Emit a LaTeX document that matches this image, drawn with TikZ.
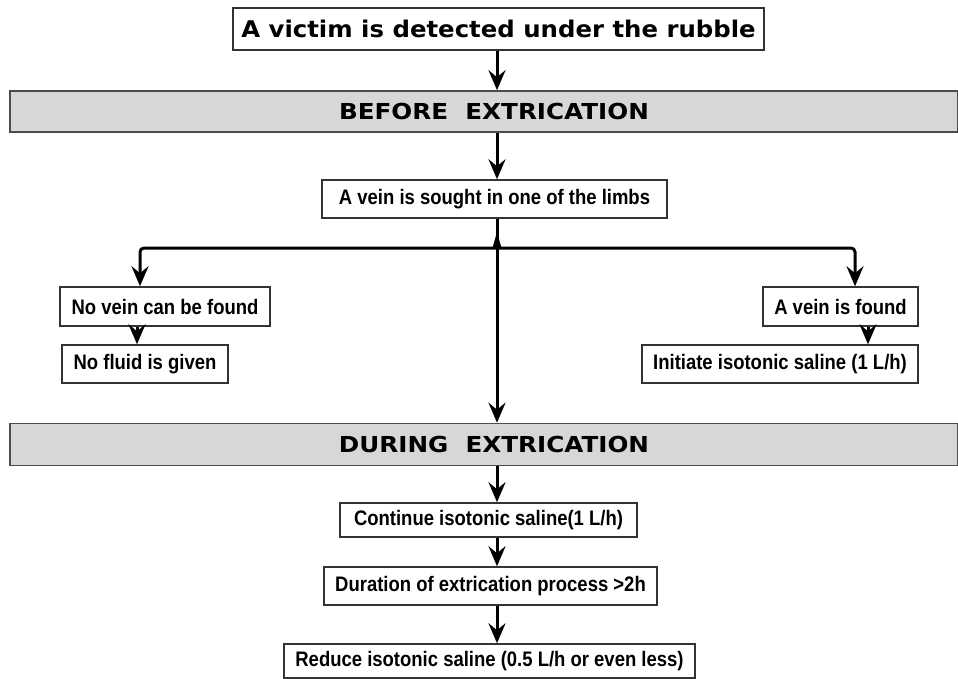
\documentclass[tikz,border=0pt]{standalone}
\usepackage{fontspec}
\setmainfont{Liberation Sans}
\newfontfamily\verdtop[FakeStretch=1.06]{DejaVu Sans}
\newfontfamily\verdband[FakeStretch=1.12]{DejaVu Sans}
\newfontfamily\narrowf[FakeStretch=0.88]{Liberation Sans}
\usetikzlibrary{arrows.meta,calc}
\definecolor{bandgray}{RGB}{215,215,215}
\tikzset{
  box/.style={draw=black!80, line width=1.5pt, fill=white, inner sep=0pt, align=center,
              font=\narrowf\bfseries\fontsize{21}{23}\selectfont},
  bigbox/.style={draw=black!80, line width=1.5pt, fill=white, inner sep=0pt,
              font=\verdtop\bfseries\fontsize{23}{25}\selectfont},
  band/.style={draw=black!70, line width=1.6pt, fill=bandgray, inner sep=0pt,
              font=\verdband\bfseries\fontsize{22}{24}\selectfont},
  arr/.style={line width=3pt, -{Stealth[length=20pt,width=17pt,inset=7pt]}},
  ln/.style={line width=3pt}
}
\begin{document}
\begin{tikzpicture}[x=1pt,y=-1pt]
\useasboundingbox (0,0) rectangle (958,678);
\node[bigbox, minimum width=531pt, minimum height=42pt] (top) at (498.5,29) {A victim is detected under the rubble};
\node[band, minimum width=948pt, minimum height=41pt] (before) at (484,111.5) {\hspace*{20pt}BEFORE\ \ EXTRICATION};
\node[box, minimum width=345pt, minimum height=38pt] (sought) at (494.5,199) {A vein is sought in one of the limbs};
\node[box, minimum width=210pt, minimum height=39pt] (nofound) at (165,306.5) {No vein can be found};
\node[box, minimum width=166pt, minimum height=38pt] (nofluid) at (145,364) {No fluid is given};
\node[box, minimum width=155pt, minimum height=39pt] (found) at (840.5,306.5) {A vein is found};
\node[box, minimum width=276pt, minimum height=38pt] (initiate) at (780,364) {Initiate isotonic saline (1 L/h)};
\node[band, minimum width=948pt, minimum height=42pt] (during) at (484,444.5) {\hspace*{20pt}DURING\ \ EXTRICATION};
\node[box, minimum width=297pt, minimum height=34pt] (cont) at (488.5,520) {Continue isotonic saline(1 L/h)};
\node[box, minimum width=333pt, minimum height=38pt] (dur) at (490.5,586) {Duration of extrication process >2h};
\node[box, minimum width=411pt, minimum height=34pt] (red) at (489.5,661) {Reduce isotonic saline (0.5 L/h or even less)};

\coordinate (mx) at (497,0);
\coordinate (j) at (497,248);
\coordinate (lx) at (140,0);
\coordinate (rx) at (855,0);
\coordinate (lx2) at (137,0);
\coordinate (rx2) at (868,0);

\draw[arr] (mx |- top.south) -- (mx |- before.north);
\draw[arr] (mx |- before.south) -- (mx |- sought.north);
\draw[arr] (mx |- sought.south) -- (mx |- during.north);
\draw[arr, rounded corners=4pt] (j) -| (lx |- nofound.north);
\draw[arr, rounded corners=4pt] (j) -| (rx |- found.north);
\fill (492.5,248) -- (497,232) -- (501.5,248) -- cycle;
\draw[arr] (lx2 |- nofound.south) -- (lx2 |- nofluid.north);
\draw[arr] (rx2 |- found.south) -- (rx2 |- initiate.north);
\draw[arr] (mx |- during.south) -- (mx |- cont.north);
\draw[arr] (mx |- cont.south) -- (mx |- dur.north);
\draw[arr] (mx |- dur.south) -- (mx |- red.north);
\end{tikzpicture}
\end{document}
